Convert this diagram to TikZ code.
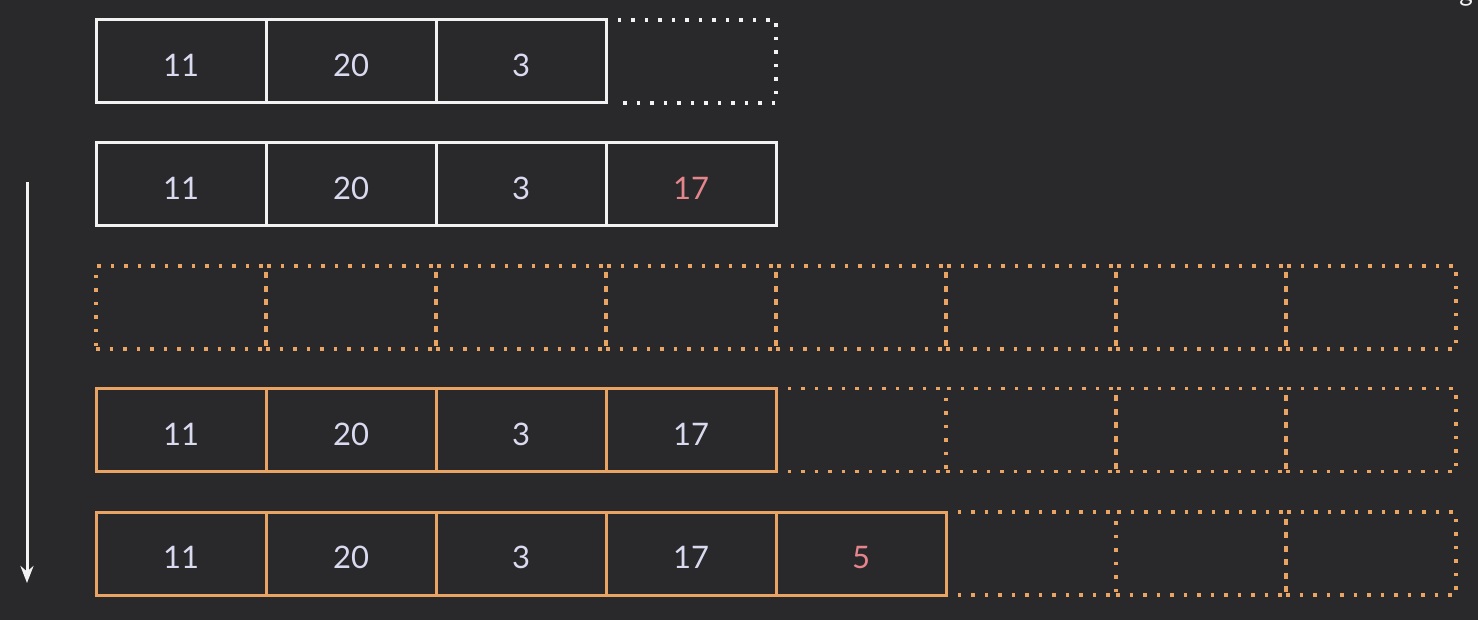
\documentclass[tikz,border=0pt]{standalone}
\usepackage{fontspec}
\setmainfont{Lato}
\usetikzlibrary{arrows.meta}
\definecolor{bg}{HTML}{29282B}
\definecolor{wline}{HTML}{F2F2F2}
\definecolor{oline}{HTML}{E9A463}
\definecolor{num}{HTML}{D9DAF0}
\definecolor{hot}{HTML}{E5868C}
\tikzset{
  cell/.style={minimum width=170pt, minimum height=83pt, inner sep=0pt, font=\fontsize{31}{31}\selectfont, text=num, text height=30pt, text depth=0pt},
  cellW/.style={cell, draw=wline, line width=3pt},
  cellO/.style={cell, draw=oline, line width=3pt},
  dotO/.style={draw=oline, line width=3.5pt, dash pattern=on 3.5pt off 10pt},
  dotW/.style={draw=wline, line width=3.5pt, dash pattern=on 3.5pt off 10pt},
  cellDO/.style={cell, dotO},
  cellE/.style={cell},
}
\begin{document}
\begin{tikzpicture}[x=1pt,y=-1pt]
\fill[bg] (0,0) rectangle (1478,620);
\useasboundingbox (0,0) rectangle (1478,620);
% row 1
\node[cellW] (a0) at (181,61.5) {11};
\node[cellW] (a1) at (351,61.5) {20};
\node[cellW] (a2) at (521,61.5) {3};
\node[cellE] (a3) at (691,61.5) {};
\draw[dotW] ([xshift=12pt]a3.north west) -- (a3.north east) -- (a3.south east) -- ([xshift=12pt]a3.south west);
% row 2
\node[cellW] (b0) at (181,184.5) {11};
\node[cellW] (b1) at (351,184.5) {20};
\node[cellW] (b2) at (521,184.5) {3};
\node[cellW, text=hot] (b3) at (691,184.5) {17};
% row 3
\foreach \i in {0,...,7} {
  \node[cellDO] (c\i) at (181+170*\i,307.5) {};
}
% row 4
\node[cellO] (d0) at (181,430) {11};
\node[cellO] (d1) at (351,430) {20};
\node[cellO] (d2) at (521,430) {3};
\node[cellO] (d3) at (691,430) {17};
\node[cellE] (d4) at (861,430) {};
\draw[dotO] ([xshift=12pt]d4.north west) -- (d4.north east);
\draw[dotO] ([xshift=12pt]d4.south west) -- (d4.south east);
\foreach \i in {5,6,7} {
  \node[cellDO] (d\i) at (181+170*\i,430) {};
}
% row 5
\node[cellO] (e0) at (181,553.5) {11};
\node[cellO] (e1) at (351,553.5) {20};
\node[cellO] (e2) at (521,553.5) {3};
\node[cellO] (e3) at (691,553.5) {17};
\node[cellO, text=hot] (e4) at (861,553.5) {5};
\node[cellE] (e5) at (1031,553.5) {};
\draw[dotO] ([xshift=12pt]e5.north west) -- (e5.north east);
\draw[dotO] ([xshift=12pt]e5.south west) -- (e5.south east);
\foreach \i in {6,7} {
  \node[cellDO] (e\i) at (181+170*\i,553.5) {};
}
% arrow
\coordinate (s) at (27,182);
\coordinate (t) at (27,583);
\draw[wline, line width=3pt, -{Stealth[length=17pt, width=13pt]}] (s) -- (t);
% cut-off glyph
\node[text=wline, font=\fontsize{26}{26}\selectfont, anchor=base] (g) at (1466,2) {g};
\end{tikzpicture}
\end{document}
